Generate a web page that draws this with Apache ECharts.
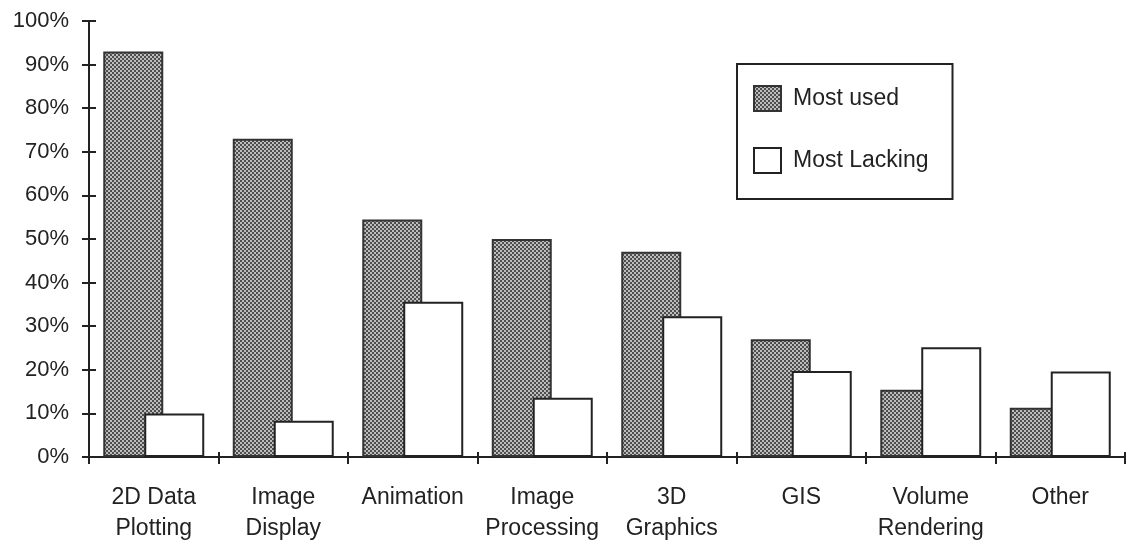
<!DOCTYPE html>
<html>
<head>
<meta charset="utf-8">
<script src="https://cdn.jsdelivr.net/npm/echarts@6/dist/echarts.min.js"></script>
<style>
html,body{margin:0;padding:0;background:#fff;}
#chart{width:1132px;height:542px;}
</style>
</head>
<body>
<div id="chart"></div>
<script>
const categories = ['2D Data\nPlotting', 'Image\nDisplay', 'Animation', 'Image\nProcessing', '3D\nGraphics', 'GIS', 'Volume\nRendering', 'Other'];
const mostUsed = [93, 73, 54.5, 50, 47.1, 27, 15.4, 11.3];
const mostLacking = [10, 8.3, 35.6, 13.6, 32.3, 19.7, 25.2, 19.6];
const seriesNames = ['Most used', 'Most Lacking'];

// dithered gray fill
const pc = document.createElement('canvas');
pc.width = 4; pc.height = 4;
const pctx = pc.getContext('2d');
pctx.fillStyle = '#bdbdbd'; pctx.fillRect(0, 0, 4, 4);
pctx.fillStyle = '#4e4e4e';
pctx.fillRect(0, 0, 2, 2); pctx.fillRect(2, 2, 2, 2);
const grayFill = { image: pc, repeat: 'repeat' };

const FONT = 'Liberation Sans, Arial, Helvetica, sans-serif';
const ink = '#222';

const chart = echarts.init(document.getElementById('chart'), null, { renderer: 'canvas' });
chart.setOption({
  animation: false,
  backgroundColor: '#fff',
  textStyle: { fontFamily: FONT, color: ink },
  grid: { left: 89, right: 7, top: 21, bottom: 85, containLabel: false, outerBoundsMode: 'none' },
  legend: {
    data: seriesNames,
    orient: 'vertical',
    left: 737, top: 64,
    padding: [21, 24, 25, 16],
    icon: 'rect',
    itemWidth: 27, itemHeight: 25, itemGap: 35,
    borderColor: '#222', borderWidth: 2,
    backgroundColor: '#fff',
    selectedMode: false,
    textStyle: { fontFamily: FONT, fontSize: 23, color: ink, padding: [0, 0, 0, 7] }
  },
  xAxis: [{
    type: 'category',
    data: categories,
    axisLine: { lineStyle: { color: ink, width: 2 } },
    axisTick: { show: true, length: 7, lineStyle: { color: ink, width: 2 } },
    axisLabel: { interval: 0, fontSize: 23, lineHeight: 31, margin: 25, color: ink, fontFamily: FONT },
    splitLine: { show: false }
  }, {
    type: 'category',
    data: categories,
    position: 'bottom',
    axisLine: { show: false },
    axisTick: { show: true, inside: true, length: 5, lineStyle: { color: ink, width: 2 } },
    axisLabel: { show: false },
    splitLine: { show: false }
  }],
  yAxis: [{
    type: 'value',
    min: 0, max: 100, interval: 10,
    axisLine: { show: true, lineStyle: { color: ink, width: 2 } },
    axisTick: { show: true, length: 7, lineStyle: { color: ink, width: 2 } },
    axisLabel: { formatter: '{value}%', fontSize: 22, margin: 20, color: ink, fontFamily: FONT },
    splitLine: { show: false }
  }, {
    type: 'value',
    min: 0, max: 100, interval: 10,
    position: 'left',
    axisLine: { show: false },
    axisTick: { show: true, inside: true, length: 7, lineStyle: { color: ink, width: 2 } },
    axisLabel: { show: false },
    splitLine: { show: false }
  }],
  series: [{
    name: seriesNames[0],
    type: 'bar',
    data: mostUsed,
    barWidth: 60,
    barGap: '-31.7%',
    itemStyle: { color: grayFill, borderColor: '#333', borderWidth: 2 }
  }, {
    name: seriesNames[1],
    type: 'bar',
    data: mostLacking,
    barWidth: 60,
    itemStyle: { color: '#fff', borderColor: '#222', borderWidth: 2 }
  }]
});
</script>
</body>
</html>
